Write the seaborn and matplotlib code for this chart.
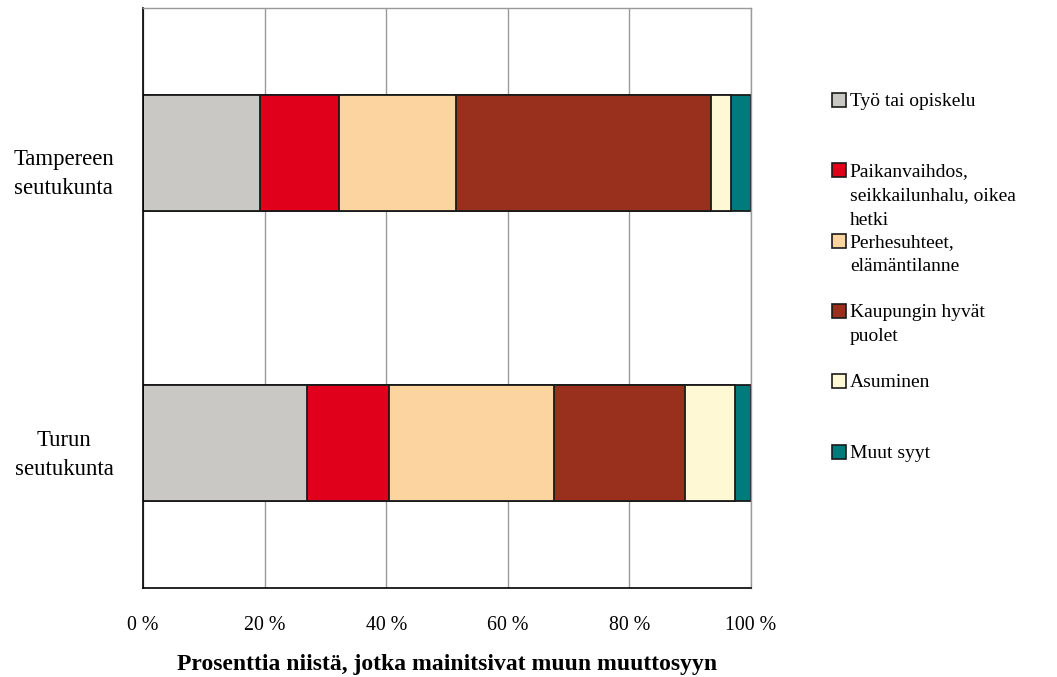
import matplotlib
matplotlib.use("Agg")
import matplotlib.pyplot as plt
import matplotlib.transforms as mtransforms
from matplotlib.patches import Patch
import numpy as np
import seaborn as sns

# data (percent of respondents)
regions = ["Tampereen\nseutukunta", "Turun\nseutukunta"]
reasons = ["Työ tai opiskelu",
           "Paikanvaihdos,\nseikkailunhalu, oikea\nhetki",
           "Perhesuhteet,\nelämäntilanne",
           "Kaupungin hyvät\npuolet",
           "Asuminen",
           "Muut syyt"]
tampere = [19.3, 12.9, 19.3, 42.0, 3.2, 3.3]
turku = [27.0, 13.5, 27.1, 21.6, 8.1, 2.7]
colors = ["#C9C8C4", "#E0001B", "#FBD4A0", "#99301D", "#FFF8D4", "#007B7B"]
xtick_vals = [0, 20, 40, 60, 80, 100]
xtick_labels = ["0 %", "20 %", "40 %", "60 %", "80 %", "100 %"]

sns.set_theme(style="white")
plt.rcParams["font.family"] = ["Liberation Serif", "DejaVu Serif"]
plt.rcParams.update({"text.color": "black", "axes.labelcolor": "black",
                     "xtick.color": "black", "ytick.color": "black"})

fig = plt.figure(figsize=(10.57, 6.77), dpi=100)
ax = fig.add_axes([143 / 1057, 1 - 588 / 677, (751 - 143) / 1057, (588 - 8) / 677])

# stacked bars: draw cumulative totals from the longest down
cum = np.cumsum(np.array([tampere, turku]), axis=1)
for i in range(len(reasons) - 1, -1, -1):
    sns.barplot(x=cum[:, i], y=regions, orient="h", color=colors[i],
                saturation=1, width=0.4, edgecolor="#1a1a1a", linewidth=1.3,
                errorbar=None, ax=ax)

ax.set_xlim(0, 100)
ax.set_ylim(1.5, -0.5)
ax.set_xticks(xtick_vals)
ax.set_xticklabels(xtick_labels, fontsize=14.3)
ax.xaxis.grid(True, color="#9a9a9a", linewidth=1)
ax.set_axisbelow(True)
ax.tick_params(axis="x", direction="out", length=6, width=1, color="black", pad=14)

ax.set_yticks([0, 1])
ax.set_yticklabels(regions, fontsize=16.4)
ax.set_yticks([-0.5, 0.5, 1.5], minor=True)
ax.tick_params(axis="y", which="major", length=0, pad=21)
ax.tick_params(axis="y", which="minor", direction="out", length=6, width=1, color="black")
for lab, dy in zip(ax.get_yticklabels(), [-0.15, -0.06]):
    lab.set_multialignment("center")
    lab.set_linespacing(1.45)
    lab.set_transform(lab.get_transform() + mtransforms.ScaledTranslation(0, dy, fig.dpi_scale_trans))
ax.set_ylabel("")

ax.set_xlabel("Prosenttia niistä, jotka mainitsivat muun muuttosyyn",
              fontsize=17, fontweight="bold", labelpad=14)

for side in ["left", "bottom"]:
    ax.spines[side].set_color("black")
    ax.spines[side].set_linewidth(1.2)
for side in ["top", "right"]:
    ax.spines[side].set_color("#9a9a9a")
    ax.spines[side].set_linewidth(1)

# legend: every entry gets the same three-line slot, box aligned with first line
handles = [Patch(facecolor=c, edgecolor="#1a1a1a", linewidth=1.2) for c in colors]
labels = [r + "\n" * (2 - r.count("\n")) for r in reasons]
leg = fig.legend(handles, labels, loc="upper left", bbox_to_anchor=(832 / 1057, 1 - 93 / 677),
                 frameon=False, fontsize=14.0, handlelength=0.72, handleheight=0.72,
                 handletextpad=0.2, labelspacing=0.26, borderpad=0, borderaxespad=0)
for t in leg.get_texts():
    t.set_linespacing(1.55)
for col in leg._legend_handle_box.get_children():
    for item in col.get_children():
        item.align = "top"

fig.savefig("out.png", dpi=100)
